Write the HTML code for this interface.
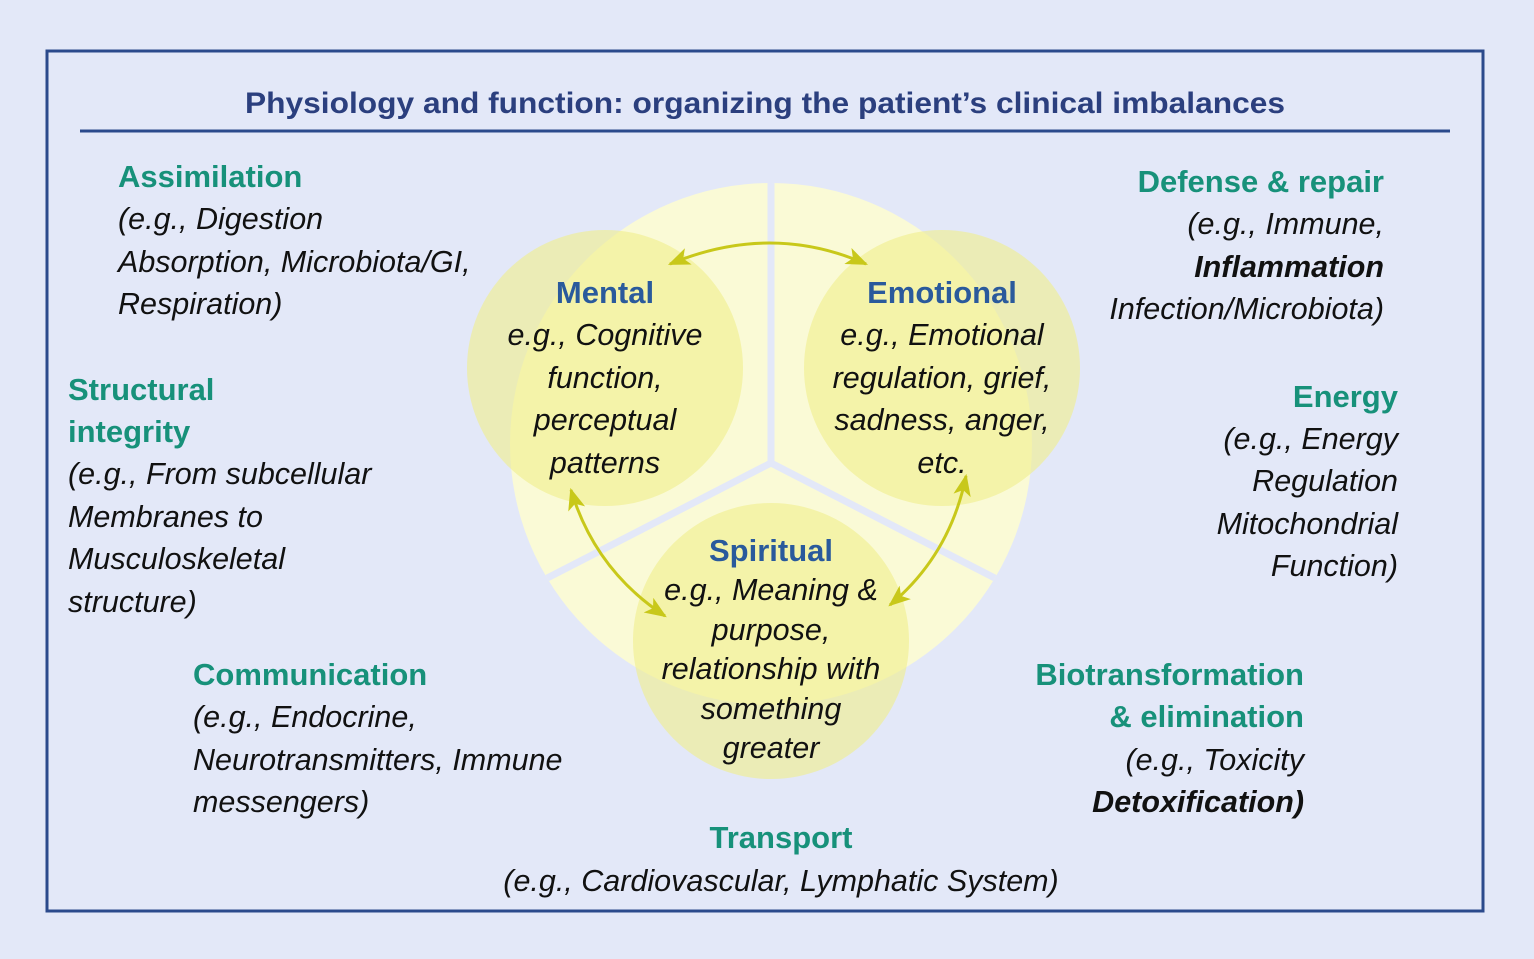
<!DOCTYPE html>
<html><head><meta charset="utf-8"><style>
body{margin:0;background:#e3e8f8;}
svg{display:block}
text{font-family:"Liberation Sans",sans-serif;}
.g{fill:#17917a;font-weight:bold;font-size:31px}
.b{fill:#2a5a9c;font-weight:bold;font-size:31px}
.i{fill:#111;font-style:italic;font-size:30.5px}
</style></head><body>
<svg width="1534" height="959" viewBox="0 0 1534 959">
<rect width="1534" height="959" fill="#e3e8f8"/>
<rect x="47" y="51" width="1436" height="860" fill="none" stroke="#2b4a8c" stroke-width="3"/>
<text x="765" y="113" text-anchor="middle" font-size="30" font-weight="bold" fill="#2b3f7e" textLength="1040" lengthAdjust="spacingAndGlyphs">Physiology and function: organizing the patient’s clinical imbalances</text>
<line x1="80" y1="131" x2="1450" y2="131" stroke="#2b4a8c" stroke-width="3"/>
<defs><clipPath id="c"><circle cx="771" cy="444" r="261"/></clipPath>
<marker id="m" viewBox="0 0 20 16" markerWidth="22" markerHeight="18" refX="18" refY="8" orient="auto-start-reverse" markerUnits="userSpaceOnUse"><path d="M0,0 L20,8 L0,16 L5,8 Z" fill="#c8c81a"/></marker></defs>
<circle cx="771" cy="444" r="261" fill="#fafad6"/>
<g clip-path="url(#c)" stroke="#e3e8f8" stroke-width="7">
<line x1="771" y1="463" x2="771" y2="170"/>
<line x1="771" y1="463" x2="520" y2="592"/>
<line x1="771" y1="463" x2="1022" y2="592"/>
</g>
<circle cx="605" cy="368" r="138" fill="#f0ee8a" fill-opacity="0.6"/>
<circle cx="942" cy="368" r="138" fill="#f0ee8a" fill-opacity="0.6"/>
<circle cx="771" cy="641" r="138" fill="#f0ee8a" fill-opacity="0.6"/>
<g fill="none" stroke="#c8c81a" stroke-width="3">
<path d="M670,264 Q771,222 866,264" marker-start="url(#m)" marker-end="url(#m)"/>
<path d="M571,490 Q595,570 665,616" marker-start="url(#m)" marker-end="url(#m)"/>
<path d="M966,476 Q950,555 890,605" marker-start="url(#m)" marker-end="url(#m)"/>
</g>
<g text-anchor="middle">
<text class="b" x="605" y="303">Mental</text>
<text class="i" x="605" y="345">e.g., Cognitive</text>
<text class="i" x="605" y="388">function,</text>
<text class="i" x="605" y="430">perceptual</text>
<text class="i" x="605" y="473">patterns</text>
<text class="b" x="942" y="303">Emotional</text>
<text class="i" x="942" y="345">e.g., Emotional</text>
<text class="i" x="942" y="388">regulation, grief,</text>
<text class="i" x="942" y="430">sadness, anger,</text>
<text class="i" x="942" y="473">etc.</text>
<text class="b" x="771" y="561">Spiritual</text>
<text class="i" x="771" y="600">e.g., Meaning &amp;</text>
<text class="i" x="771" y="640">purpose,</text>
<text class="i" x="771" y="679">relationship with</text>
<text class="i" x="771" y="719">something</text>
<text class="i" x="771" y="758">greater</text>
<text class="g" x="781" y="848">Transport</text>
<text class="i" x="781" y="891">(e.g., Cardiovascular, Lymphatic System)</text>
</g>
<text class="g" x="118" y="187">Assimilation</text>
<text class="i" x="118" y="229">(e.g., Digestion</text>
<text class="i" x="118" y="272">Absorption, Microbiota/GI,</text>
<text class="i" x="118" y="314">Respiration)</text>
<text class="g" x="68" y="400">Structural</text>
<text class="g" x="68" y="442">integrity</text>
<text class="i" x="68" y="484">(e.g., From subcellular</text>
<text class="i" x="68" y="527">Membranes to</text>
<text class="i" x="68" y="569">Musculoskeletal</text>
<text class="i" x="68" y="612">structure)</text>
<text class="g" x="193" y="685">Communication</text>
<text class="i" x="193" y="727">(e.g., Endocrine,</text>
<text class="i" x="193" y="770">Neurotransmitters, Immune</text>
<text class="i" x="193" y="812">messengers)</text>
<g text-anchor="end">
<text class="g" x="1384" y="192">Defense &amp; repair</text>
<text class="i" x="1384" y="234">(e.g., Immune,</text>
<text class="i" x="1384" y="277" font-weight="bold" font-style="normal">Inflammation</text>
<text class="i" x="1384" y="319">Infection/Microbiota)</text>
<text class="g" x="1398" y="407">Energy</text>
<text class="i" x="1398" y="449">(e.g., Energy</text>
<text class="i" x="1398" y="491">Regulation</text>
<text class="i" x="1398" y="534">Mitochondrial</text>
<text class="i" x="1398" y="576">Function)</text>
<text class="g" x="1304" y="685">Biotransformation</text>
<text class="g" x="1304" y="727">&amp; elimination</text>
<text class="i" x="1304" y="770">(e.g., Toxicity</text>
<text class="i" x="1304" y="812" font-weight="bold">Detoxification)</text>
</g>
</svg>
</body></html>
